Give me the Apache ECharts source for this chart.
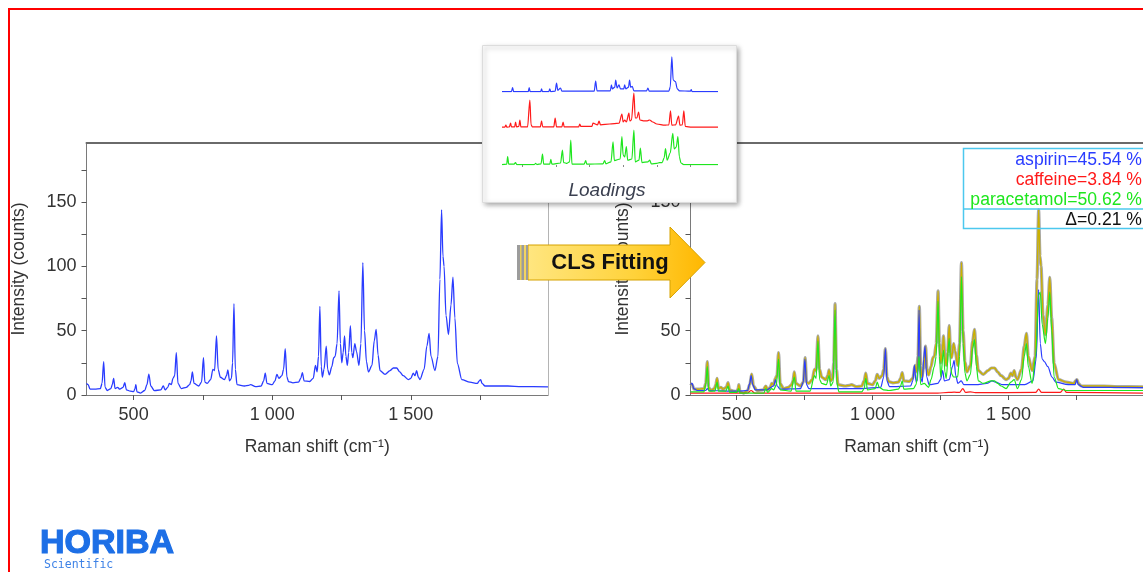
<!DOCTYPE html>
<html>
<head>
<meta charset="utf-8">
<title>CLS fitting of a Raman spectrum</title>
<script src="https://cdn.jsdelivr.net/npm/echarts@6/dist/echarts.min.js"></script>
<style>
  html, body { margin: 0; padding: 0; background: #fff; }
  #chart { width: 1143px; height: 572px; }
</style>
</head>
<body>
<div id="chart"></div>
<script>
// axis ticks
const xLabels = [500, 1000, 1500];
const xTicks = [500, 750, 1000, 1250, 1500, 1750];
const yLabels = [0, 50, 100, 150];
const yTicks = [0, 25, 50, 75, 100, 125, 150, 175];
const loadingTicks = [500, 750, 1000, 1250, 1500, 1750];

// measured mixture spectrum  [Raman shift, counts]
const mixture = [
  [330, 9], [336, 8], [343, 4.5], [360, 4.5], [380, 5], [386, 9], [392, 26], [397, 6], [405, 3.5], [418, 5],
  [423, 8], [428, 13], [433, 5], [442, 6], [450, 4.5], [462, 6], [468, 9.6], [474, 4], [488, 3], [500, 2.6],
  [505, 5], [508, 8], [512, 2.5], [525, 1.5], [540, 3.5], [548, 8], [555, 16.3], [562, 7], [575, 3.4], [598, 4],
  [607, 7], [614, 4], [623, 6], [629, 9], [636, 8], [642, 13], [648, 15], [654, 33], [660, 9], [672, 5],
  [690, 6], [702, 8], [707, 11], [712, 18], [718, 9], [735, 7], [745, 10], [752, 29], [757, 10], [765, 9],
  [778, 12], [786, 20], [792, 19], [799, 46], [805, 20], [813, 13.8], [828, 12], [835, 15], [840, 19.5], [846, 11],
  [853, 13], [857, 25], [862, 71], [867, 20], [873, 8], [900, 7], [915, 7.5], [922, 8], [940, 6.5], [960, 7],
  [969, 11], [975, 17], [981, 9], [1000, 8], [1010, 11], [1017, 16], [1024, 13], [1035, 15], [1041, 20], [1047, 36],
  [1053, 14], [1059, 10.4], [1075, 9.5], [1095, 10], [1103, 13], [1109, 17.4], [1115, 11], [1135, 10.5], [1148, 13], [1156, 23],
  [1162, 18], [1167, 30], [1172, 69], [1177, 22], [1181, 14], [1187, 20], [1195, 38], [1200, 20], [1206, 15.6], [1215, 22],
  [1222, 29], [1227, 30], [1234, 40], [1241, 81], [1246, 40], [1251, 25], [1256, 33], [1261, 46], [1266, 30], [1271, 23],
  [1276, 33], [1282, 54], [1287, 33], [1291, 29], [1298, 40], [1304, 34], [1313, 23], [1320, 40], [1327, 103], [1333, 50],
  [1340, 26], [1347, 18], [1360, 23], [1368, 42], [1375, 51], [1382, 31], [1389, 19], [1407, 16], [1425, 19], [1437, 21],
  [1449, 21], [1460, 18], [1473, 15], [1491, 12], [1500, 13], [1509, 17], [1515, 15], [1521, 19], [1527, 14], [1533, 12],
  [1548, 20], [1558, 38], [1566, 48], [1573, 30], [1587, 19], [1598, 30], [1605, 90], [1611, 144], [1616, 108], [1620, 100],
  [1627, 62], [1636, 47], [1645, 70], [1652, 91.6], [1659, 60], [1668, 24.6], [1684, 12], [1713, 10], [1740, 9], [1747, 11],
  [1752, 12], [1757, 9], [1768, 7], [1850, 7], [1900, 6.5], [1995, 6.3]
];

// fitted contributions of each pure component
const aspirin = [
  [330, 8], [336, 9], [342, 5], [355, 3.5], [386, 3.5], [392, 5], [398, 3.5], [500, 3], [540, 3.5], [548, 9],
  [553, 15], [559, 8], [568, 4], [610, 4], [636, 7], [643, 12], [649, 7], [660, 4.5], [735, 5], [745, 10],
  [751, 28], [757, 8], [766, 5], [860, 5], [960, 5], [1030, 6], [1041, 14], [1047, 36], [1053, 11], [1062, 6.5],
  [1140, 7], [1148, 11], [1154, 23], [1160, 10], [1166, 12], [1171, 66], [1176, 14], [1183, 10], [1188, 28], [1193, 38],
  [1199, 14], [1208, 8], [1240, 9], [1250, 12], [1258, 19], [1264, 11], [1282, 12], [1294, 22], [1300, 27], [1306, 15],
  [1314, 9], [1326, 11], [1336, 8], [1380, 8], [1420, 9], [1440, 11], [1452, 10], [1480, 8], [1560, 8], [1590, 11],
  [1602, 28], [1611, 82], [1617, 40], [1624, 28], [1632, 26], [1645, 22], [1660, 14], [1674, 10], [1720, 8], [1745, 8],
  [1751, 12], [1757, 8], [1775, 6], [1995, 5.7]
];
const caffeine = [
  [330, 1.5], [540, 1.5], [553, 3.5], [566, 1.5], [1240, 1.5], [1280, 2], [1300, 2.2], [1320, 2], [1332, 5], [1342, 2],
  [1360, 2.5], [1378, 1.8], [1600, 2], [1611, 4.5], [1622, 2], [1690, 2], [1703, 4.5], [1714, 2], [1995, 1.5]
];
const paracetamol = [
  [330, 2.5], [380, 2.5], [386, 8], [392, 22], [397, 3], [420, 3], [428, 10], [433, 3], [460, 3], [468, 7],
  [474, 2], [500, 2], [508, 5], [512, 1.5], [600, 1.5], [607, 5], [614, 2], [629, 5], [636, 4], [646, 8],
  [654, 28], [660, 4], [700, 3], [712, 14], [718, 3], [745, 3], [770, 3], [786, 15], [792, 13], [799, 42],
  [805, 12], [813, 9], [830, 8], [840, 15], [846, 7], [855, 10], [862, 66], [868, 10], [876, 2.5], [960, 2.5],
  [969, 5], [975, 13], [981, 4], [1010, 5], [1017, 10], [1024, 6], [1040, 4], [1060, 3.5], [1095, 4.5], [1103, 7],
  [1109, 11], [1115, 4.5], [1150, 5], [1160, 8], [1166, 18], [1171, 30], [1177, 8], [1190, 9], [1206, 6], [1215, 12],
  [1227, 22], [1234, 30], [1241, 73], [1246, 30], [1251, 14], [1261, 35], [1266, 18], [1271, 13], [1282, 44], [1287, 22],
  [1292, 16], [1298, 14], [1313, 14], [1320, 30], [1327, 92], [1333, 40], [1340, 17], [1347, 11], [1360, 16], [1368, 36],
  [1375, 43], [1382, 22], [1389, 11], [1407, 9], [1437, 11], [1449, 11], [1460, 9], [1473, 7], [1491, 5], [1509, 10],
  [1521, 12], [1533, 5], [1548, 12], [1558, 30], [1566, 40], [1573, 22], [1587, 9], [1600, 30], [1611, 78], [1617, 80],
  [1624, 55], [1636, 40], [1645, 60], [1652, 80], [1659, 50], [1668, 14], [1684, 5], [1713, 3.5], [1995, 3.5]
];

// loadings (pure component spectra, relative units)
const loadingAspirin = [
  [350, 1], [420, 1], [429, 11], [436, 1], [545, 1], [552, 11], [559, 1], [638, 1], [644, 8], [650, 1],
  [698, 1], [705, 8], [712, 1], [745, 2], [755, 22], [765, 4], [785, 10], [795, 2], [1035, 2], [1046, 27],
  [1056, 3], [1155, 3], [1163, 18], [1170, 8], [1188, 12], [1195, 30], [1205, 10], [1219, 18], [1230, 8], [1255, 8],
  [1261, 18], [1270, 8], [1290, 12], [1298, 30], [1306, 12], [1318, 14], [1330, 3], [1425, 3], [1434, 10], [1444, 2],
  [1590, 2], [1600, 12], [1612, 88], [1622, 30], [1639, 26], [1652, 8], [1669, 3], [1750, 2], [1756, 6], [1762, 1],
  [1955, 1]
];
const loadingCaffeine = [
  [350, 2], [370, 2], [379, 7], [386, 2], [405, 3], [414, 12], [420, 3], [444, 3], [451, 15], [458, 3],
  [475, 4], [483, 20], [490, 3], [540, 3], [557, 70], [566, 8], [575, 3], [635, 3], [644, 18], [652, 3],
  [735, 3], [745, 25], [755, 3], [795, 3], [804, 15], [812, 3], [920, 3], [928, 10], [936, 4], [1018, 4],
  [1026, 12], [1060, 8], [1071, 17], [1082, 8], [1150, 10], [1220, 12], [1241, 35], [1250, 15], [1262, 20], [1274, 15],
  [1293, 37], [1300, 18], [1312, 20], [1330, 87], [1340, 25], [1352, 25], [1365, 40], [1375, 20], [1400, 18], [1430, 18],
  [1447, 20], [1470, 15], [1500, 10], [1560, 7], [1590, 8], [1602, 43], [1612, 7], [1640, 8], [1662, 30], [1672, 7],
  [1690, 8], [1701, 43], [1712, 4], [1760, 2], [1955, 2]
];
const loadingParacetamol = [
  [350, 1], [385, 2], [392, 21], [400, 2], [440, 2], [450, 6], [460, 1], [590, 1], [600, 4], [610, 1],
  [640, 3], [651, 27], [660, 2], [705, 2], [713, 14], [721, 2], [785, 5], [799, 37], [808, 6], [822, 5],
  [830, 4], [852, 8], [861, 62], [870, 2], [960, 2], [972, 11], [980, 2], [1100, 3], [1113, 11], [1122, 3],
  [1160, 8], [1175, 58], [1185, 11], [1228, 15], [1241, 71], [1250, 25], [1262, 20], [1274, 46], [1284, 12], [1315, 15],
  [1330, 87], [1340, 8], [1368, 12], [1378, 42], [1390, 6], [1435, 8], [1447, 12], [1460, 3], [1500, 4], [1520, 6],
  [1540, 6], [1555, 18], [1565, 41], [1577, 12], [1600, 30], [1619, 79], [1630, 40], [1645, 45], [1657, 71], [1668, 20],
  [1680, 5], [1700, 1], [1955, 1]
];

// CLS result
const componentNames = ['aspirin', 'caffeine', 'paracetamol'];
const componentPercent = [45.54, 3.84, 50.62];
const residualPercent = 0.21;

const FONT = '"Liberation Sans", Arial, sans-serif';
const BLUE = '#2a3cff';
const RED = '#ff1a1a';
const GREEN = '#1ee61e';
const GOLD = '#cbb100';
const colors = [BLUE, RED, GREEN];

const X_MIN = 330, X_MAX = 1995, Y_MIN = 0, Y_MAX = 196;

// 1000 -> "1 000"
const fmtShift = (v) => v >= 1000 ? Math.floor(v / 1000) + ' ' + String(v % 1000).padStart(3, '0') : String(v);

const labelStyle = { color: '#333', fontSize: 18, fontFamily: FONT };
const nameStyle = { color: '#333', fontSize: 17.5, fontFamily: FONT };

function plotAxes(gridIndex) {
  const x = [
    {
      type: 'value', gridIndex, min: X_MIN, max: X_MAX, position: 'bottom',
      axisLine: { show: true, onZero: false, lineStyle: { color: '#7a7a7a', width: 1 } },
      axisTick: { show: true, customValues: xTicks, length: 5, lineStyle: { color: '#555' } },
      axisLabel: { customValues: xLabels, formatter: fmtShift, margin: 11, ...labelStyle },
      splitLine: { show: false },
      name: 'Raman shift (cm⁻¹)', nameLocation: 'middle', nameGap: 43, nameTextStyle: nameStyle
    },
    {
      type: 'value', gridIndex, min: X_MIN, max: X_MAX, position: 'top',
      axisLine: { show: true, onZero: false, lineStyle: { color: '#6a6a6a', width: 2 } },
      axisTick: { show: false }, axisLabel: { show: false }, splitLine: { show: false }
    }
  ];
  const y = {
    type: 'value', gridIndex, min: Y_MIN, max: Y_MAX, position: 'left',
    axisLine: { show: true, onZero: false, lineStyle: { color: '#7a7a7a', width: 1 } },
    axisTick: { show: true, customValues: yTicks, length: 5, lineStyle: { color: '#555' } },
    axisLabel: { customValues: yLabels, margin: 10, ...labelStyle },
    splitLine: { show: false },
    name: 'Intensity (counts)', nameLocation: 'middle', nameGap: 58, nameRotate: 90, nameTextStyle: nameStyle
  };
  return { x, y };
}

function loadingAxes(gridIndex, withTicks) {
  return {
    x: {
      type: 'value', gridIndex, min: 350, max: 1955, z: 45,
      axisLine: { show: false, onZero: false },
      axisTick: { show: withTicks, customValues: loadingTicks, length: 2, lineStyle: { color: '#888' } },
      axisLabel: { show: false }, splitLine: { show: false }
    },
    y: { type: 'value', gridIndex, min: 0, max: 100, show: false }
  };
}

const left = plotAxes(0);
const right = plotAxes(1);
const la = loadingAxes(2, false);
const lc = loadingAxes(3, false);
const lp = loadingAxes(4, true);

const leftBorder = {
  type: 'value', gridIndex: 0, min: Y_MIN, max: Y_MAX, position: 'right',
  axisLine: { show: true, onZero: false, lineStyle: { color: '#b4b4b4', width: 1 } },
  axisTick: { show: false }, axisLabel: { show: false }, splitLine: { show: false }
};

const line = (name, data, xi, yi, color, width, z) => ({
  name, type: 'line', data, xAxisIndex: xi, yAxisIndex: yi,
  showSymbol: false, silent: true, z, smooth: 0.3, smoothMonotone: 'x',
  lineStyle: { color, width }
});

const option = {
  animation: false,
  grid: [
    { left: 86.5, top: 143, width: 461.5, height: 252 },
    { left: 690.5, top: 143, width: 462, height: 252 },
    { left: 502, top: 52, width: 216, height: 40 },
    { left: 502, top: 88, width: 216, height: 40 },
    { left: 502, top: 125, width: 216, height: 40 }
  ],
  // x: 0,1 left plot | 2,3 right plot | 4,5,6 loadings
  xAxis: [...left.x, ...right.x, la.x, lc.x, lp.x],
  // y: 0,1 left plot | 2 right plot | 3,4,5 loadings
  yAxis: [left.y, leftBorder, right.y, la.y, lc.y, lp.y],
  series: [
    line('mixture', mixture, 0, 0, BLUE, 1.3, 3),
    line('measured', mixture, 2, 2, '#a9a9a9', 3.2, 3),
    line('fit', mixture, 2, 2, GOLD, 1.4, 4),
    line('caffeine', caffeine, 2, 2, RED, 1.2, 5),
    line('aspirin', aspirin, 2, 2, BLUE, 1.2, 5),
    line('paracetamol', paracetamol, 2, 2, GREEN, 1.2, 5),
    line('loading aspirin', loadingAspirin, 4, 3, BLUE, 1.2, 45),
    line('loading caffeine', loadingCaffeine, 5, 4, RED, 1.2, 45),
    line('loading paracetamol', loadingParacetamol, 6, 5, GREEN, 1.2, 45)
  ],
  graphic: [
    // red page frame
    { type: 'polyline', z: 100, shape: { points: [[9, 572], [9, 9], [1143, 9]] },
      style: { stroke: '#ff0000', lineWidth: 2, fill: null } },
    // loadings inset
    { type: 'rect', z: 40, shape: { x: 482.5, y: 45.5, width: 254, height: 157 },
      style: { fill: '#fff', stroke: '#dcdcdc', lineWidth: 1, shadowBlur: 5, shadowOffsetX: 2, shadowOffsetY: 2, shadowColor: 'rgba(0,0,0,0.35)' } },
    { type: 'text', z: 46, style: { text: 'Loadings', x: 607, y: 191, align: 'center', verticalAlign: 'middle',
      font: 'italic 19px ' + FONT, fill: '#3b4050' } },
    // CLS arrow
    { type: 'polygon', z: 60,
      shape: { points: [[528, 245], [670, 245], [670, 227], [705, 262.5], [670, 298], [670, 280], [528, 280]] },
      style: { stroke: '#d6a200', lineWidth: 1,
        fill: { type: 'linear', x: 0, y: 0, x2: 1, y2: 0,
          colorStops: [{ offset: 0, color: '#ffe680' }, { offset: 0.6, color: '#ffd23a' }, { offset: 1, color: '#ffb700' }] } } },
    { type: 'rect', z: 61, shape: { x: 517, y: 245, width: 11, height: 35 }, style: { fill: '#9c9c9c' } },
    { type: 'rect', z: 62, shape: { x: 520, y: 245, width: 1.5, height: 35 }, style: { fill: '#e9cd5a' } },
    { type: 'rect', z: 62, shape: { x: 524, y: 245, width: 2, height: 35 }, style: { fill: '#f3d460' } },
    { type: 'text', z: 63, style: { text: 'CLS Fitting', x: 610, y: 263, align: 'center', verticalAlign: 'middle',
      font: 'bold 22px ' + FONT, fill: '#111' } },
    // result box
    { type: 'rect', z: 70, shape: { x: 963.5, y: 148.5, width: 200, height: 80 },
      style: { fill: null, stroke: '#4cc8ee', lineWidth: 1.5 } },
    { type: 'line', z: 70, shape: { x1: 963.5, y1: 209, x2: 1163, y2: 209 },
      style: { stroke: '#4cc8ee', lineWidth: 1.5 } },
    ...componentNames.map((n, i) => ({
      type: 'text', z: 71,
      style: { text: n + '=' + componentPercent[i].toFixed(2) + ' %', x: 1142, y: 160 + i * 20.2,
        align: 'right', verticalAlign: 'middle', font: '17.6px ' + FONT, fill: colors[i] }
    })),
    { type: 'text', z: 71, style: { text: 'Δ=' + residualPercent.toFixed(2) + ' %', x: 1142, y: 220,
      align: 'right', verticalAlign: 'middle', font: '17.6px ' + FONT, fill: '#111' } },
    // logo
    { type: 'text', z: 80, style: { text: 'HORIBA', x: 40, y: 544, verticalAlign: 'middle',
      font: 'bold 34px ' + FONT, fill: '#1d6fe6', stroke: '#1d6fe6', lineWidth: 1.2 } },
    { type: 'text', z: 80, style: { text: 'Scientific', x: 44, y: 565, verticalAlign: 'middle',
      font: '11.5px "DejaVu Sans Mono", monospace', fill: '#3d82e6' } }
  ]
};

const chart = echarts.init(document.getElementById('chart'), null, { renderer: 'canvas' });
chart.setOption(option);
</script>
</body>
</html>
